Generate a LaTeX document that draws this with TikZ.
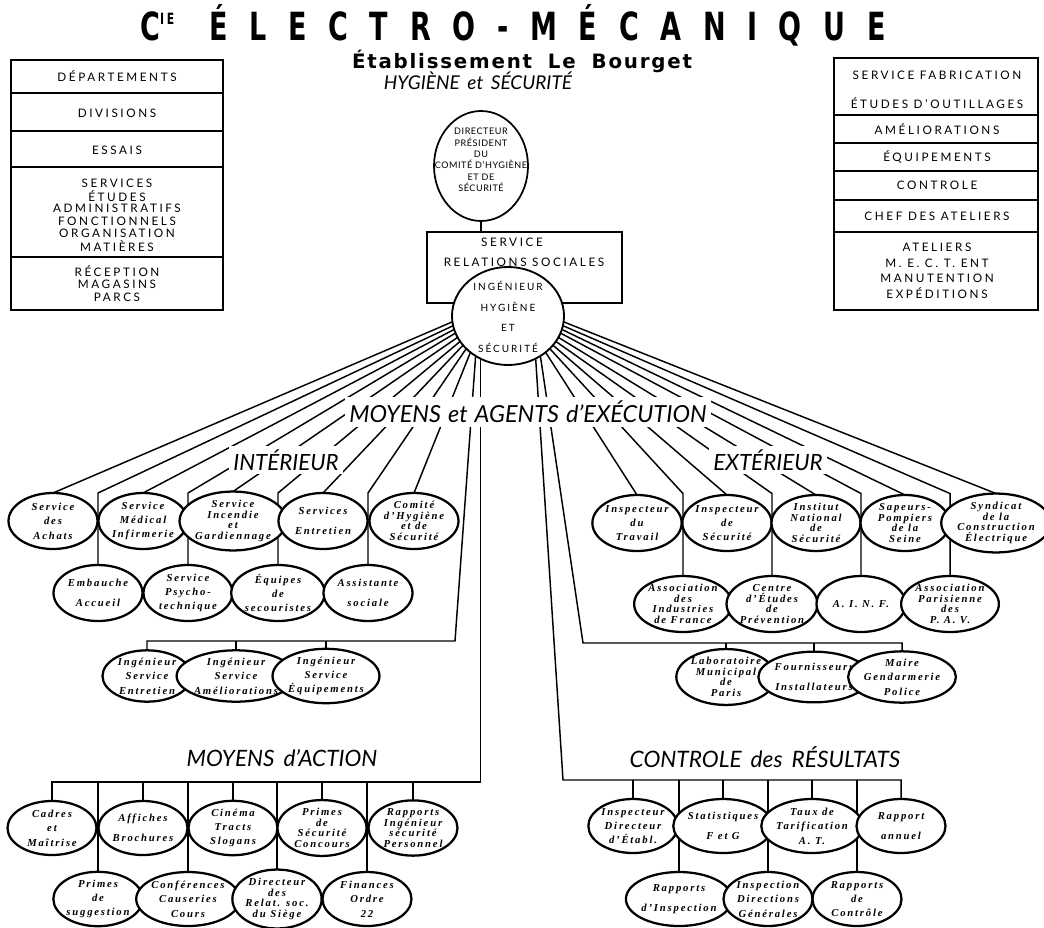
\documentclass[tikz,border=0pt]{standalone}
\usepackage{fontspec}
\usepackage{graphicx}
\usetikzlibrary{shapes.geometric,backgrounds}
\setmainfont{Liberation Serif}
\newfontfamily\bxf[LetterSpace=22]{Lato}
\newfontfamily\lbf{Lato}
\newfontfamily\ttlf[LetterSpace=80]{DejaVu Sans}
\newfontfamily\sbtf[LetterSpace=9]{DejaVu Sans}
\newfontfamily\cif[LetterSpace=17]{Liberation Serif}
\tikzset{
  every node/.style={inner sep=0pt,outer sep=0pt},
  conn/.style={line width=1.1pt},
  boxframe/.style={line width=1.1pt},
  bxt/.style={font=\bxf\fontsize{8.8}{10}\selectfont},
  circ/.style={ellipse,draw,line width=1.7pt,fill=white,minimum width=66.75pt,minimum height=42pt,align=center},
  circs/.style={circ,minimum height=38pt},
  circm/.style={circ,minimum height=40.5pt},
  tt2/.style={font=\cif\bfseries\itshape\fontsize{8}{15}\selectfont},
  tt3/.style={font=\cif\bfseries\itshape\fontsize{8}{10.8}\selectfont},
  tt4/.style={font=\cif\bfseries\itshape\fontsize{8}{8}\selectfont},
  lab/.style={fill=white,inner sep=3pt},
}
\begin{document}
\begin{tikzpicture}[x=0.75pt,y=-0.75pt]
\useasboundingbox (0,0) rectangle (1044,927);
% ---------- titles
\node (ttl) at (513,25) {\resizebox{559pt}{27pt}{\ttlf\bfseries\fontsize{30}{30}\selectfont C\raisebox{12pt}{\fontsize{12}{12}\selectfont\addfontfeature{LetterSpace=25}IE}\hspace{1.3em}ÉLECTRO-MÉCANIQUE}};
\node (sub) at (522,61) {\resizebox{255pt}{!}{\sbtf\bfseries Établissement\hspace{0.8em}Le\hspace{0.8em}Bourget}};
\node (hyg) at (478,81) {\resizebox{141pt}{!}{\lbf\itshape HYGIÈNE\hspace{0.4em}et\hspace{0.4em}SÉCURITÉ}};
% ---------- left box
\draw[boxframe] (11,60) rectangle (223,310);
\foreach \yy in {93,131,167,257} \draw[boxframe] (11,\yy) -- (223,\yy);
\node[bxt] (l1) at (117,76) {DÉPARTEMENTS};
\node[bxt] (l2) at (117,113) {DIVISIONS};
\node[bxt] (l3) at (117,150) {ESSAIS};
\node[bxt] (l4) at (117,183) {SERVICES};
\node[bxt] (l5) at (117,196) {ÉTUDES};
\node[bxt] (l6) at (117,208) {ADMINISTRATIFS};
\node[bxt] (l7) at (117,221) {FONCTIONNELS};
\node[bxt] (l8) at (117,233) {ORGANISATION};
\node[bxt] (l9) at (117,246) {MATIÈRES};
\node[bxt] (l10) at (117,271) {RÉCEPTION};
\node[bxt] (l11) at (117,284) {MAGASINS};
\node[bxt] (l12) at (117,297) {PARCS};
% ---------- right box
\draw[boxframe] (834,58) rectangle (1038,310);
\foreach \yy in {115,143,171,200,232} \draw[boxframe] (834,\yy) -- (1038,\yy);
\node[bxt] (r1) at (937,75) {SERVICE FABRICATION};
\node[bxt] (r2) at (937,103) {ÉTUDES D’OUTILLAGES};
\node[bxt] (r3) at (937,129) {AMÉLIORATIONS};
\node[bxt] (r4) at (937,157) {ÉQUIPEMENTS};
\node[bxt] (r5) at (937,185) {CONTROLE};
\node[bxt] (r6) at (937,216) {CHEF DES ATELIERS};
\node[bxt] (r7) at (937,247) {ATELIERS};
\node[bxt] (r8) at (937,263) {M. E. C. T. ENT};
\node[bxt] (r9) at (937,278) {MANUTENTION};
\node[bxt] (r10) at (937,293) {EXPÉDITIONS};
% ---------- centre
\node[ellipse,draw,line width=1.3pt,minimum width=70.5pt,minimum height=82.5pt] (D) at (481,166) {};
\node[align=center,font={\bxf\fontsize{6.8}{8.6}\selectfont\addfontfeature{LetterSpace=6}}] (Dt) at (481,160) {DIRECTEUR\\PRÉSIDENT\\DU\\COMITÉ D’HYGIÈNE\\ET DE\\SÉCURITÉ};
\node[draw,line width=1.1pt,minimum width=146.25pt,minimum height=53.25pt] (RS) at (524.5,267.5) {};
\node[bxt] (rs1) at (512,242) {SERVICE};
\node[bxt] (rs2) at (524,262) {RELATIONS SOCIALES};
\draw[conn] (D.south) -- (D.south |- RS.north);
\node[ellipse,draw,line width=1.4pt,fill=white,minimum width=84pt,minimum height=73.5pt] (I) at (508,316) {};
\node[align=center,font={\bxf\fontsize{7.5}{15.5}\selectfont\addfontfeature{LetterSpace=20}}] (It) at (508,317) {INGÉNIEUR\\HYGIÈNE\\ET\\SÉCURITÉ};
% ---------- interior circles
\node[circ,tt3] (A1) at (53,521) {Service\\des\\Achats};
\node[circ,tt3] (A2) at (143,521) {Service\\Médical\\Infirmerie};
\node[circ,tt4] (A3) at (233,521) {Service\\Incendie\\et\\Gardiennage};
\node[circ,tt2] (A4) at (323,521) {Services\\Entretien};
\node[circ,tt4] (A5) at (414,521) {Comité\\d’Hygiène\\et de\\Sécurité};
\node[circ,tt2] (B1) at (98,593) {Embauche\\Accueil};
\node[circ,tt3] (B2) at (188,593) {Service\\Psycho-\\technique};
\node[circ,tt3] (B3) at (278,593) {Équipes\\de\\secouristes};
\node[circ,tt2] (B4) at (368,593) {Assistante\\sociale};
\node[circs,tt3] (C1) at (147,676) {Ingénieur\\Service\\Entretien};
\node[circs,tt3] (C2) at (236,676) {Ingénieur\\Service\\Améliorations};
\node[circs,tt3] (C3) at (326,676) {Ingénieur\\Service\\Équipements};
% ---------- exterior circles
\node[circ,tt3] (E1) at (637,523) {Inspecteur\\du\\Travail};
\node[circ,tt3] (E2) at (727,523) {Inspecteur\\de\\Sécurité};
\node[circ,tt4] (E3) at (816,523) {Institut\\National\\de\\Sécurité};
\node[circ,tt4] (E4) at (905,523) {Sapeurs-\\Pompiers\\de la\\Seine};
\node[circ,tt4] (E5) at (996,523) {Syndicat\\de la\\Construction\\Électrique};
\node[circ,tt4] (F1) at (683,604) {Association\\des\\Industries\\de France};
\node[circ,tt4] (F2) at (772,604) {Centre\\d’Études\\de\\Prévention};
\node[circ,tt3] (F3) at (861,604) {A. I. N. F.};
\node[circ,tt4] (F4) at (950,604) {Association\\Parisienne\\des\\P. A. V.};
\node[circs,tt4] (G1) at (726,677) {Laboratoire\\Municipal\\de\\Paris};
\node[circs,tt2] (G2) at (814,677) {Fournisseurs\\Installateurs};
\node[circs,tt3] (G3) at (902,677) {Maire\\Gendarmerie\\Police};
% ---------- moyens d'action
\node[circm,tt3] (M1) at (52,828) {Cadres\\et\\Maîtrise};
\node[circm,tt2] (M2) at (143,828) {Affiches\\Brochures};
\node[circm,tt3] (M3) at (233,828) {Cinéma\\Tracts\\Slogans};
\node[circm,tt4] (M4) at (322,828) {Primes\\de\\Sécurité\\Concours};
\node[circm,tt4] (M5) at (413,828) {Rapports\\Ingénieur\\sécurité\\Personnel};
\node[circm,tt3] (N1) at (98,899) {Primes\\de\\suggestion};
\node[circm,tt3] (N2) at (188,899) {Conférences\\Causeries\\Cours};
\node[circm,tt4] (N3) at (277,899) {Directeur\\des\\Relat. soc.\\du Siège};
\node[circm,tt3] (N4) at (367,899) {Finances\\Ordre\\22};
% ---------- controle des resultats
\node[circm,tt3] (R1) at (633,826) {Inspecteur\\Directeur\\d’Établ.};
\node[circm,tt2] (R2) at (723,826) {Statistiques\\F et G};
\node[circm,tt3] (R3) at (812,826) {Taux de\\Tarification\\A. T.};
\node[circm,tt2] (R4) at (901,826) {Rapport\\annuel};
\node[circm,tt2] (S1) at (679,899) {Rapports\\d’Inspection};
\node[circm,tt3] (S2) at (768,899) {Inspection\\Directions\\Générales};
\node[circm,tt3] (S3) at (857,899) {Rapports\\de\\Contrôle};
% ---------- labels
\node[lab] (mae) at (528,412) {\resizebox{268pt}{!}{\lbf\itshape MOYENS\hspace{0.3em}et\hspace{0.3em}AGENTS\hspace{0.3em}d’EXÉCUTION}};
\node[lab] (int) at (286,460) {\resizebox{79pt}{!}{\lbf\itshape INTÉRIEUR}};
\node[lab] (ext) at (768,460) {\resizebox{82pt}{!}{\lbf\itshape EXTÉRIEUR}};
\node (mda) at (282,758) {\resizebox{143pt}{!}{\lbf\itshape MOYENS\hspace{0.4em}d’ACTION}};
\node (cdr) at (765,757) {\resizebox{203pt}{!}{\lbf\itshape CONTROLE\hspace{0.4em}des\hspace{0.4em}RÉSULTATS}};
% ---------- bus points
\coordinate (cI) at (455,641);
\coordinate (cE) at (583,643);
\coordinate (cM) at (482,782);
\coordinate (cR) at (563,780);
\begin{pgfonlayer}{background}
% interior fan
\draw[conn] (I.186) -- (A1.north);
\draw[conn] (I.190) -- (B1.north |- A1.north) -- (B1.north);
\draw[conn] (I.194) -- (A2.north);
\draw[conn] (I.198) -- (B2.north |- A1.north) -- (B2.north);
\draw[conn] (I.203) -- (A3.north);
\draw[conn] (I.208) -- (B3.north |- A1.north) -- (B3.north);
\draw[conn] (I.213) -- (A4.north);
\draw[conn] (I.218) -- (B4.north |- A1.north) -- (B4.north);
\draw[conn] (I.224) -- (A5.north);
\draw[conn] (I.231) -- (cI) -- (C1.north |- cI) -- (C1.north);
\draw[conn] (C2.north) -- (C2.north |- cI);
\draw[conn] (C3.north) -- (C3.north |- cI);
% exterior fan
\draw[conn] (I.354) -- (E5.north);
\draw[conn] (I.350) -- (F4.north |- E5.north) -- (F4.north);
\draw[conn] (I.346) -- (E4.north);
\draw[conn] (I.342) -- (F3.north |- E5.north) -- (F3.north);
\draw[conn] (I.337) -- (E3.north);
\draw[conn] (I.332) -- (F2.north |- E5.north) -- (F2.north);
\draw[conn] (I.327) -- (E2.north);
\draw[conn] (I.322) -- (F1.north |- E5.north) -- (F1.north);
\draw[conn] (I.316) -- (E1.north);
\draw[conn] (I.309) -- (cE) -- (G3.north |- cE) -- (G3.north);
\draw[conn] (G1.north) -- (G1.north |- cE);
\draw[conn] (G2.north) -- (G2.north |- cE);
% moyens d'action
\draw[conn] (I.237) -- (I.237 |- cM) -- (M1.north |- cM) -- (M1.north);
\foreach \n in {M2,M3,M4,M5,N1,N2,N3,N4} \draw[conn] (\n.north) -- (\n.north |- cM);
% controle
\draw[conn] (I.303) -- (cR) -- (R4.north |- cR) -- (R4.north);
\foreach \n in {R1,R2,R3,S1,S2,S3} \draw[conn] (\n.north) -- (\n.north |- cR);
\end{pgfonlayer}
\end{tikzpicture}
\end{document}
